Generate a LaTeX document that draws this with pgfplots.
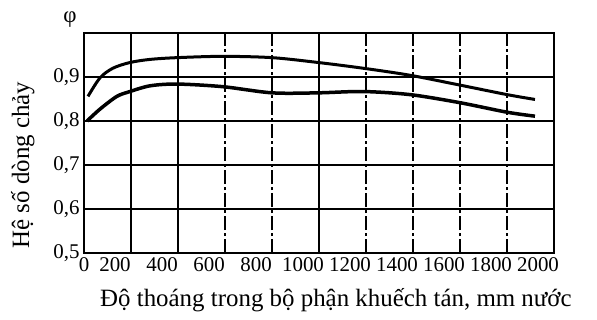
\documentclass[border=0pt]{standalone}
\usepackage{pgfplots}
\pgfplotsset{compat=1.18}
\usepackage{fontspec}
\setmainfont{Liberation Serif}
\begin{document}
\begin{tikzpicture}
\path[use as bounding box] (-84bp,-67bp) rectangle (513bp,253bp);
\begin{axis}[
  at={(0,0)}, anchor=south west,
  scale only axis, width=470bp, height=220bp,
  xmin=0, xmax=2000, ymin=0.5, ymax=1.0,
  axis line style={line width=2bp},
  major tick length=0pt, minor tick length=0pt,
  xtick={0,132,332,532,732,932,1132,1332,1532,1732,1932},
  xticklabels={0,200,400,600,800,1000,1200,1400,1600,1800,2000},
  minor xtick={600,800,1200,1400,1600,1800},
  xminorgrids=true,
  minor grid style={black, line width=1.4bp, dash pattern=on 14bp off 3bp on 3bp off 3bp},
  extra x ticks={200,400,1000},
  extra x tick labels={},
  extra x tick style={grid=major, major grid style={black, solid, line width=1.4bp}},
  ytick={0.5,0.6,0.7,0.8,0.9},
  yticklabels={{0,5},{0,6},{0,7},{0,8},{0,9}},
  ymajorgrids=true,
  major grid style={black, line width=1.4bp},
  /pgf/number format/assume math mode=true,
  tick label style={font=\fontsize{21}{23}\selectfont},
  xticklabel style={yshift=-1bp},
  yticklabel style={xshift=-1bp},
  xlabel={Độ thoáng trong bộ phận khuếch tán, mm nước},
  ylabel={Hệ số dòng chảy},
  label style={font=\fontsize{25}{28}\selectfont},
  xlabel style={at={(axis description cs:0.536,0)}, anchor=center, yshift=-47bp},
  ylabel style={at={(axis description cs:-0.13,0.40)}, anchor=center},
  clip=false,
]
\addplot[black, line width=3bp, smooth] coordinates {
  (17,0.856) (68,0.898) (123,0.920) (196,0.933) (281,0.940) (396,0.944) (591,0.947)
  (800,0.944) (996,0.933) (1187,0.920) (1387,0.904) (1596,0.882) (1800,0.860) (1919,0.849)};
\addplot[black, line width=3.5bp, smooth] coordinates {
  (13,0.800) (68,0.827) (140,0.856) (196,0.867) (281,0.880) (396,0.884) (591,0.878)
  (800,0.864) (996,0.864) (1187,0.867) (1387,0.860) (1596,0.842) (1800,0.820) (1919,0.811)};
\node[font=\fontsize{23}{25}\selectfont, anchor=base, inner sep=0pt] at (rel axis cs:0,1) [xshift=-14bp, yshift=11bp] {φ};
\end{axis}
\end{tikzpicture}
\end{document}
